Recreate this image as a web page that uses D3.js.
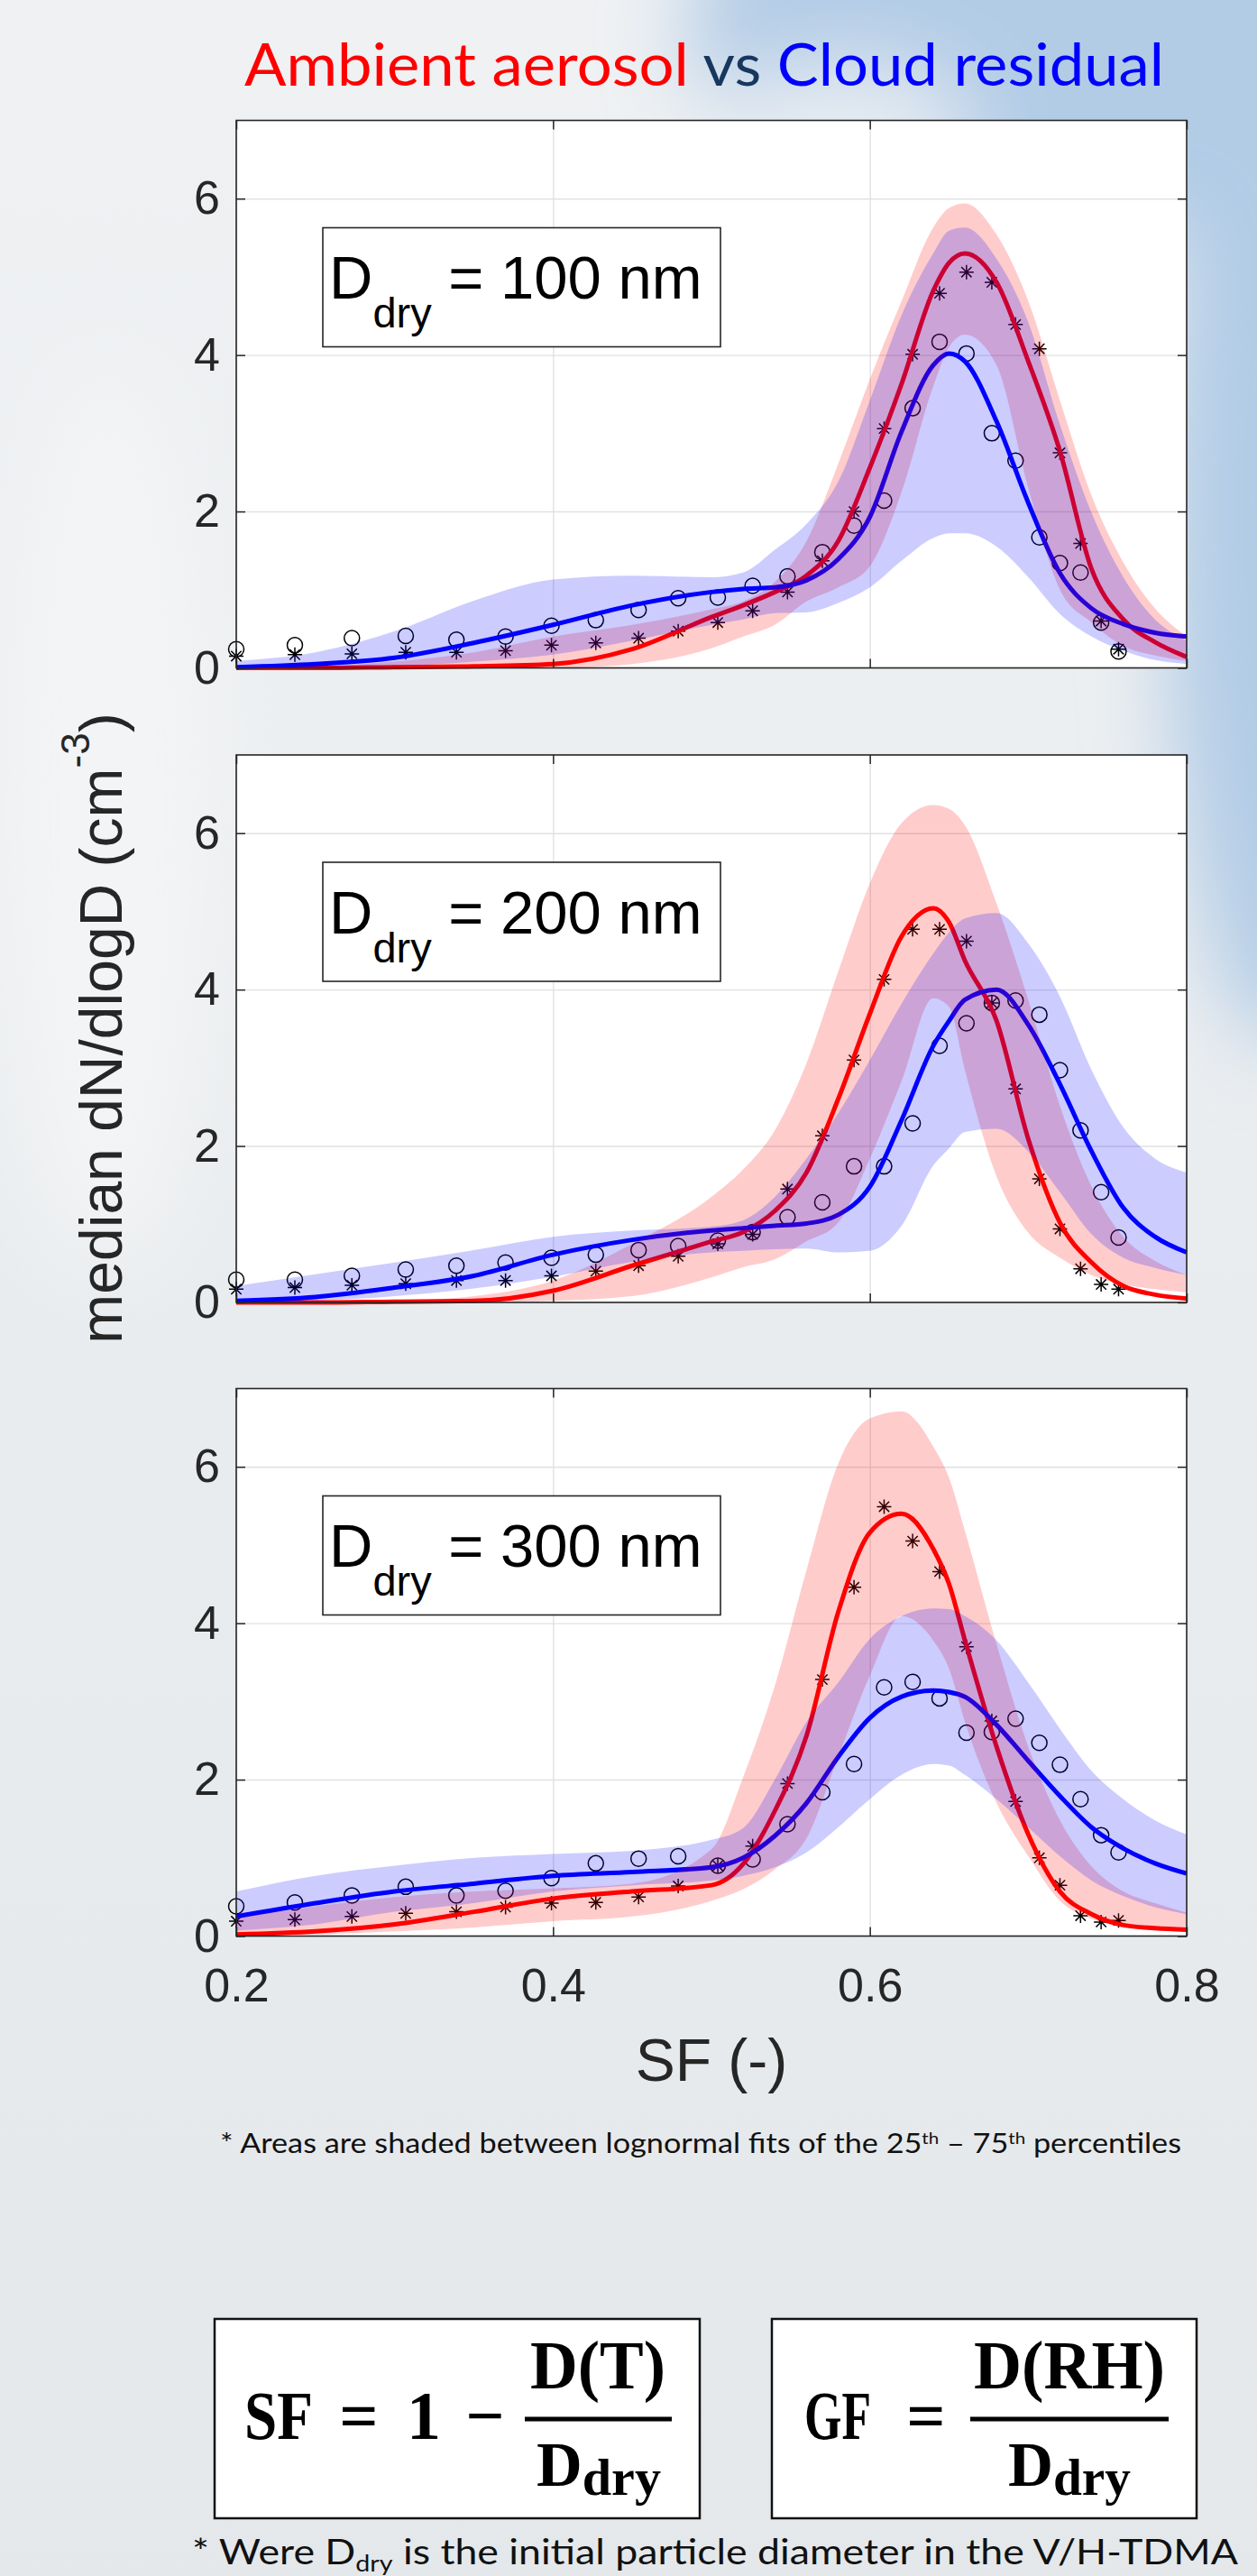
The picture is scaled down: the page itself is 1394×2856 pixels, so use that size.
<!DOCTYPE html>
<html>
<head>
<meta charset="utf-8">
<script src="https://cdn.jsdelivr.net/npm/d3@7"></script>
<style>
  html, body { margin: 0; padding: 0; }
  body { width: 1394px; height: 2856px; overflow: hidden; }
  text { white-space: pre; }
</style>
</head>
<body>
<div id="my_dataviz"></div>
<script>
// SF positions of the lognormal fits and of the measured medians
const sfGrid = [0.20,0.25,0.30,0.35,0.40,0.45,0.50,0.52,0.54,0.56,0.58,0.60,0.62,0.64,0.65,0.66,0.68,0.70,0.72,0.74,0.76,0.78,0.80];
const sfBins = [0.200,0.237,0.273,0.307,0.339,0.370,0.399,0.427,0.454,0.479,0.504,0.526,0.548,0.570,0.590,0.609,0.627,0.644,0.661,0.677,0.692,0.707,0.720,0.733,0.746,0.757];
const xTicks = [0.2, 0.4, 0.6, 0.8];
const yTicks = [0, 2, 4, 6];
const dryLabels = ["100", "200", "300"];

// D_dry = 100 nm
const ambFit100 = [0.00,0.00,0.01,0.02,0.05,0.24,0.65,0.80,0.97,1.18,1.62,2.56,3.63,4.82,5.18,5.30,4.93,3.92,2.77,1.26,0.62,0.33,0.14];
const cldFit100 = [0.01,0.05,0.13,0.32,0.55,0.80,0.97,1.01,1.03,1.12,1.39,1.93,3.02,3.87,4.02,3.92,3.15,2.11,1.21,0.76,0.56,0.45,0.40];
const ambHi100  = [0.00,0.02,0.08,0.20,0.40,0.55,0.75,0.85,1.10,1.62,2.61,3.69,4.69,5.63,5.88,5.94,5.54,4.69,3.42,2.20,1.35,0.76,0.40];
const ambLo100  = [0.00,0.00,0.00,0.00,0.00,0.05,0.25,0.40,0.55,0.85,1.03,1.30,2.25,3.60,4.10,4.26,3.87,2.30,1.00,0.58,0.28,0.16,0.09];
const cldHi100  = [0.09,0.20,0.47,0.86,1.13,1.18,1.16,1.22,1.51,1.84,2.38,3.42,4.51,5.30,5.59,5.63,5.23,4.42,3.11,1.98,1.16,0.62,0.35];
const cldLo100  = [0.00,0.00,0.02,0.08,0.17,0.35,0.55,0.62,0.70,0.71,0.83,1.03,1.37,1.66,1.72,1.72,1.55,1.16,0.69,0.40,0.22,0.10,0.05];
const ambMed100 = [0.15,0.17,0.18,0.20,0.20,0.22,0.29,0.32,0.38,0.47,0.58,0.73,0.97,1.37,2.00,3.06,4.01,4.79,5.06,4.93,4.39,4.08,2.75,1.59,0.60,0.24];
const cldMed100 = [0.24,0.29,0.38,0.41,0.36,0.40,0.54,0.61,0.74,0.89,0.90,1.05,1.17,1.48,1.82,2.14,3.32,4.17,4.02,3.00,2.65,1.67,1.34,1.22,0.58,0.21];

// D_dry = 200 nm
const ambFit200 = [0.00,0.00,0.01,0.02,0.15,0.47,0.78,0.90,1.17,1.66,2.60,3.69,4.68,5.04,4.86,4.37,3.60,2.09,1.02,0.51,0.21,0.10,0.05];
const cldFit200 = [0.02,0.07,0.19,0.34,0.61,0.80,0.92,0.95,0.98,1.01,1.12,1.48,2.33,3.28,3.60,3.87,4.00,3.55,2.79,1.93,1.21,0.84,0.64];
const ambHi200  = [0.00,0.00,0.02,0.08,0.28,0.75,1.35,1.70,2.20,3.06,4.23,5.36,6.13,6.36,6.31,6.10,5.10,3.87,2.51,1.48,0.84,0.53,0.35];
const ambLo200  = [0.00,0.00,0.00,0.00,0.02,0.08,0.32,0.45,0.55,0.78,1.02,1.84,2.83,3.89,3.78,2.97,1.61,0.89,0.57,0.35,0.23,0.17,0.13];
const cldHi200  = [0.21,0.36,0.51,0.67,0.84,0.92,0.97,1.05,1.35,1.84,2.42,3.10,3.82,4.46,4.73,4.91,4.98,4.59,3.91,2.97,2.24,1.84,1.66];
const cldLo200  = [0.00,0.02,0.08,0.18,0.33,0.52,0.64,0.66,0.68,0.69,0.64,0.66,0.98,1.75,1.97,2.18,2.22,1.93,1.41,0.87,0.57,0.44,0.35];
const ambMed200 = [0.17,0.19,0.22,0.24,0.28,0.28,0.34,0.40,0.47,0.59,0.75,0.87,1.45,2.13,3.10,4.13,4.77,4.77,4.62,3.83,2.73,1.58,0.94,0.43,0.23,0.17];
const cldMed200 = [0.29,0.29,0.34,0.42,0.47,0.51,0.57,0.61,0.67,0.72,0.79,0.90,1.09,1.28,1.74,1.74,2.29,3.28,3.57,3.83,3.86,3.68,2.97,2.20,1.41,0.83];

// D_dry = 300 nm
const ambFit300 = [0.02,0.06,0.15,0.31,0.48,0.57,0.65,0.92,1.60,2.56,4.14,5.16,5.40,4.95,4.50,3.78,2.42,1.30,0.57,0.28,0.14,0.10,0.08];
const cldFit300 = [0.25,0.42,0.57,0.67,0.77,0.82,0.88,1.00,1.28,1.70,2.29,2.79,3.06,3.14,3.12,3.06,2.70,2.24,1.79,1.39,1.12,0.93,0.80];
const ambHi300  = [0.23,0.38,0.50,0.57,0.61,0.67,1.11,2.03,3.20,4.68,6.04,6.62,6.71,6.26,5.86,5.18,3.73,2.42,1.48,0.89,0.57,0.42,0.30];
const ambLo300  = [0.00,0.02,0.06,0.11,0.19,0.25,0.45,0.60,0.85,1.25,2.29,3.33,4.09,3.78,3.42,2.74,1.70,1.02,0.45,0.22,0.12,0.08,0.06];
const cldHi300  = [0.57,0.77,0.90,1.00,1.05,1.09,1.23,1.38,2.00,2.74,3.24,3.80,4.09,4.19,4.18,4.09,3.78,3.24,2.65,2.11,1.75,1.48,1.30];
const cldLo300  = [0.07,0.15,0.31,0.42,0.57,0.65,0.71,0.77,0.88,1.07,1.39,1.75,2.06,2.20,2.18,2.06,1.75,1.39,1.02,0.71,0.51,0.37,0.28];
const ambMed300 = [0.19,0.21,0.25,0.29,0.31,0.37,0.42,0.43,0.50,0.64,0.90,1.15,1.95,3.28,4.46,5.49,5.05,4.66,3.70,2.75,1.72,1.00,0.65,0.26,0.18,0.20];
const cldMed300 = [0.38,0.43,0.52,0.63,0.52,0.58,0.74,0.93,0.99,1.02,0.90,0.98,1.43,1.84,2.20,3.18,3.25,3.04,2.60,2.61,2.78,2.47,2.19,1.75,1.29,1.07];

const panels = [
  {label: dryLabels[0], ambFit: ambFit100, cldFit: cldFit100, ambHi: ambHi100, ambLo: ambLo100, cldHi: cldHi100, cldLo: cldLo100, amb: ambMed100, cld: cldMed100},
  {label: dryLabels[1], ambFit: ambFit200, cldFit: cldFit200, ambHi: ambHi200, ambLo: ambLo200, cldHi: cldHi200, cldLo: cldLo200, amb: ambMed200, cld: cldMed200},
  {label: dryLabels[2], ambFit: ambFit300, cldFit: cldFit300, ambHi: ambHi300, ambLo: ambLo300, cldHi: cldHi300, cldLo: cldLo300, amb: ambMed300, cld: cldMed300}
];

const W = 1394, H = 2856;
const PL = 262, PW = 1054, PH = 607;
const panelTop = [133.5, 837, 1539.5];
const axisColor = "#262626";
const tickFont = "'Liberation Sans', Arial, sans-serif";

const svg = d3.select("#my_dataviz")
  .append("svg")
    .attr("width", W)
    .attr("height", H)
    .style("display", "block");

// background: soft sky
const defs = svg.append("defs");
const bg = defs.append("linearGradient").attr("id", "bg").attr("x1", 0).attr("y1", 0).attr("x2", 0).attr("y2", 1);
bg.append("stop").attr("offset", "0%").attr("stop-color", "#eff1f3");
bg.append("stop").attr("offset", "100%").attr("stop-color", "#e4e8eb");
defs.append("filter").attr("id", "blur").attr("x", "-50%").attr("y", "-50%").attr("width", "200%").attr("height", "200%")
  .append("feGaussianBlur").attr("stdDeviation", 45);

svg.append("rect").attr("width", W).attr("height", H).attr("fill", "url(#bg)");
const sky = svg.append("g").attr("filter", "url(#blur)");
sky.append("ellipse").attr("cx", 1230).attr("cy", 30).attr("rx", 470).attr("ry", 230).attr("fill", "#b2cce6");
sky.append("ellipse").attr("cx", 1420).attr("cy", 560).attr("rx", 130).attr("ry", 600).attr("fill", "#b2cce6");
sky.append("ellipse").attr("cx", 930).attr("cy", 150).attr("rx", 150).attr("ry", 80).attr("fill", "#e6ecf2");
sky.append("ellipse").attr("cx", 120).attr("cy", 900).attr("rx", 120).attr("ry", 500).attr("fill", "#f3f4f5");

// title
const title = svg.append("text")
  .attr("x", 271).attr("y", 95)
  .attr("textLength", 1020).attr("lengthAdjust", "spacingAndGlyphs")
  .style("font-family", "Lato, 'Open Sans', sans-serif")
  .style("font-size", "66px");
title.append("tspan").attr("fill", "#ff0000").text("Ambient aerosol");
title.append("tspan").attr("fill", "#17375e").text(" vs ");
title.append("tspan").attr("fill", "#0000ff").text("Cloud residual");

// scales
const x = d3.scaleLinear().domain([0.2, 0.8]).range([0, PW]);
const y = d3.scaleLinear().domain([0, 7]).range([PH, 0]);

const fitLine = d3.line()
  .x((d, i) => x(sfGrid[i]))
  .y(d => y(d))
  .curve(d3.curveMonotoneX);

const band = d3.area()
  .x(d => x(d[0]))
  .y0(d => y(d[1]))
  .y1(d => y(d[2]))
  .curve(d3.curveMonotoneX);

function asterisk(cx, cy, r) {
  const d = r * 0.7071;
  return `M${cx - r},${cy}h${2 * r}M${cx},${cy - r}v${2 * r}` +
         `M${cx - d},${cy - d}l${2 * d},${2 * d}M${cx - d},${cy + d}l${2 * d},${-2 * d}`;
}

panels.forEach((p, i) => {
  const g = svg.append("g").attr("transform", `translate(${PL},${panelTop[i]})`);

  g.append("rect").attr("width", PW).attr("height", PH).attr("fill", "#ffffff");

  // grid
  g.append("g")
    .call(d3.axisBottom(x).tickValues(xTicks).tickSize(PH).tickFormat(""))
    .call(a => a.select(".domain").remove())
    .selectAll("line").attr("stroke", "#e1e1e1").attr("stroke-width", 1.4);
  g.append("g")
    .call(d3.axisLeft(y).tickValues(yTicks).tickSize(-PW).tickFormat(""))
    .call(a => a.select(".domain").remove())
    .selectAll("line").attr("stroke", "#e1e1e1").attr("stroke-width", 1.4);

  // medians (drawn first: the shaded areas lie on top of them)
  g.append("g").selectAll("path")
    .data(p.amb)
    .join("path")
      .attr("d", (v, j) => asterisk(x(sfBins[j]), y(v), 8))
      .attr("stroke", "#000").attr("stroke-width", 1.5).attr("fill", "none");
  g.append("g").selectAll("circle")
    .data(p.cld)
    .join("circle")
      .attr("cx", (v, j) => x(sfBins[j]))
      .attr("cy", v => y(v))
      .attr("r", 8.5)
      .attr("stroke", "#000").attr("stroke-width", 1.5).attr("fill", "none");

  // fits
  g.append("path").datum(p.ambFit)
    .attr("d", fitLine).attr("fill", "none")
    .attr("stroke", "#ff0000").attr("stroke-width", 5);
  g.append("path").datum(p.cldFit)
    .attr("d", fitLine).attr("fill", "none")
    .attr("stroke", "#0000ff").attr("stroke-width", 5);

  // 25th-75th percentile areas
  g.append("path").datum(sfGrid.map((s, j) => [s, p.ambLo[j], p.ambHi[j]]))
    .attr("d", band).attr("fill", "#ff0000").attr("fill-opacity", 0.2);
  g.append("path").datum(sfGrid.map((s, j) => [s, p.cldLo[j], p.cldHi[j]]))
    .attr("d", band).attr("fill", "#0000ff").attr("fill-opacity", 0.2);

  // D_dry label box
  g.append("rect")
    .attr("x", 96).attr("y", 119).attr("width", 441).attr("height", 132)
    .attr("fill", "#ffffff").attr("stroke", axisColor).attr("stroke-width", 1.6);
  const lab = g.append("text")
    .attr("x", 103).attr("y", 197.5)
    .attr("fill", "#000")
    .style("font-family", tickFont).style("font-size", "67px");
  lab.append("tspan").text("D");
  lab.append("tspan").attr("dy", 32).style("font-size", "47px").text("dry");
  lab.append("tspan").attr("dy", -32).text(" = " + p.label + " nm");

  // axes: ticks point inward, box all round
  const tickStyle = sel => {
    sel.select(".domain").remove();
    sel.selectAll("line").attr("stroke", axisColor).attr("stroke-width", 1.5);
    sel.selectAll("text").attr("fill", axisColor)
      .style("font-family", tickFont).style("font-size", "52px");
  };
  g.append("g")
    .call(d3.axisLeft(y).tickValues(yTicks).tickSize(-10).tickPadding(18).tickFormat(d3.format("d")))
    .call(tickStyle);
  g.append("g").attr("transform", `translate(${PW},0)`)
    .call(d3.axisRight(y).tickValues(yTicks).tickSize(-10).tickFormat(""))
    .call(tickStyle);
  g.append("g")
    .call(d3.axisTop(x).tickValues(xTicks).tickSize(-10).tickFormat(""))
    .call(tickStyle);
  g.append("g").attr("transform", `translate(0,${PH})`)
    .call(d3.axisBottom(x).tickValues(xTicks).tickSize(-10).tickPadding(36)
      .tickFormat(i === panels.length - 1 ? d3.format(".1f") : ""))
    .call(tickStyle);

  g.append("rect").attr("width", PW).attr("height", PH)
    .attr("fill", "none").attr("stroke", axisColor).attr("stroke-width", 1.6);
});

// axis labels
const ylab = svg.append("text")
  .attr("transform", "translate(135,1140) rotate(-90)")
  .attr("text-anchor", "middle")
  .attr("fill", axisColor)
  .style("font-family", tickFont).style("font-size", "66px");
ylab.append("tspan").text("median dN/dlogD (cm");
ylab.append("tspan").attr("dy", -36).style("font-size", "44px").text("-3");
ylab.append("tspan").attr("dy", 36).text(")");

svg.append("text")
  .attr("x", PL + PW / 2).attr("y", 2307)
  .attr("text-anchor", "middle")
  .attr("fill", axisColor)
  .style("font-family", tickFont).style("font-size", "66px")
  .text("SF (-)");

// footnote on shading
const note = svg.append("text")
  .attr("x", 244).attr("y", 2387)
  .attr("textLength", 1066).attr("lengthAdjust", "spacingAndGlyphs")
  .attr("fill", "#111")
  .style("font-family", "Lato, sans-serif").style("font-size", "30px");
note.append("tspan").text("* Areas are shaded between lognormal fits of the 25");
note.append("tspan").attr("dy", -10).style("font-size", "18px").text("th");
note.append("tspan").attr("dy", 10).text(" \u2013 75");
note.append("tspan").attr("dy", -10).style("font-size", "18px").text("th");
note.append("tspan").attr("dy", 10).text(" percentiles");

// formula boxes
const serif = "'Liberation Serif', 'Times New Roman', serif";
function formulaBox(bx, bw) {
  svg.append("rect")
    .attr("x", bx).attr("y", 2571).attr("width", bw).attr("height", 221)
    .attr("fill", "#ffffff").attr("stroke", "#111").attr("stroke-width", 2.5);
}
function ftext(tx, ty, str, anchor, len) {
  const t = svg.append("text")
    .attr("x", tx).attr("y", ty)
    .attr("text-anchor", anchor)
    .attr("fill", "#000")
    .style("font-family", serif).style("font-weight", "bold").style("font-size", "76px")
    .text(str);
  if (len) t.attr("textLength", len).attr("lengthAdjust", "spacingAndGlyphs");
  return t;
}
function fbar(x1, x2) {
  svg.append("line").attr("x1", x1).attr("x2", x2).attr("y1", 2682).attr("y2", 2682)
    .attr("stroke", "#000").attr("stroke-width", 5);
}
function denom(tx, len) {
  const t = svg.append("text")
    .attr("x", tx).attr("y", 2756)
    .attr("textLength", len).attr("lengthAdjust", "spacingAndGlyphs")
    .attr("fill", "#000")
    .style("font-family", serif).style("font-weight", "bold").style("font-size", "70px");
  t.append("tspan").text("D");
  t.append("tspan").attr("dy", 10).style("font-size", "58px").text("dry");
}

formulaBox(238, 538);
ftext(271, 2704, "SF", "start", 76);
ftext(398, 2704, "=", "middle");
ftext(470, 2704, "1", "middle");
ftext(538, 2704, "\u2212", "middle");
fbar(582, 745);
ftext(663, 2648, "D(T)", "middle", 150);
denom(595, 138);

formulaBox(856, 471);
ftext(892, 2704, "GF", "start", 74);
ftext(1027, 2704, "=", "middle");
fbar(1076, 1296);
ftext(1186, 2648, "D(RH)", "middle", 212);
denom(1118, 136);

// bottom note
const note2 = svg.append("text")
  .attr("x", 213).attr("y", 2843)
  .attr("textLength", 1160).attr("lengthAdjust", "spacingAndGlyphs")
  .attr("fill", "#111")
  .style("font-family", "Lato, sans-serif").style("font-size", "39px");
note2.append("tspan").text("* Were D");
note2.append("tspan").attr("dy", 8).style("font-size", "25px").text("dry");
note2.append("tspan").attr("dy", -8).text(" is the initial particle diameter in the V/H-TDMA");
</script>
</body>
</html>
